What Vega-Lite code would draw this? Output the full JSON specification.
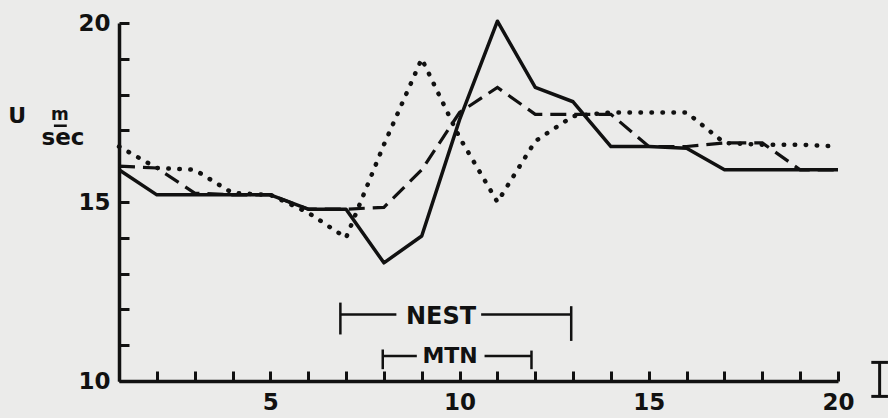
{
  "$schema": "https://vega.github.io/schema/vega-lite/v6.json",
  "width": 719,
  "height": 358,
  "autosize": "none",
  "padding": {"left": 119, "top": 23, "right": 50, "bottom": 37},
  "background": "#ebebea",
  "config": {
    "view": {"stroke": null},
    "axis": {
      "grid": false,
      "title": null,
      "domainColor": "#111",
      "domainWidth": 3.5,
      "tickColor": "#111",
      "tickWidth": 3,
      "tickSize": -10,
      "labelFont": "DejaVu Sans",
      "labelFontWeight": "bold",
      "labelFontSize": 23,
      "labelColor": "#111",
      "labelOverlap": false,
      "labelFlush": false,
      "labelBound": false,
      "labelExpr": "datum.value % 5 === 0 ? datum.label : ''"
    },
    "axisX": {"labelPadding": 20},
    "axisY": {"labelPadding": 19}
  },
  "datasets": {
    "series": [
      {"station": 1, "u": 16.55, "series": "dotted"},
      {"station": 2, "u": 15.95, "series": "dotted"},
      {"station": 3, "u": 15.9, "series": "dotted"},
      {"station": 4, "u": 15.25, "series": "dotted"},
      {"station": 5, "u": 15.2, "series": "dotted"},
      {"station": 6, "u": 14.7, "series": "dotted"},
      {"station": 7, "u": 14.0, "series": "dotted"},
      {"station": 8, "u": 16.6, "series": "dotted"},
      {"station": 9, "u": 19.0, "series": "dotted"},
      {"station": 10, "u": 16.8, "series": "dotted"},
      {"station": 11, "u": 15.0, "series": "dotted"},
      {"station": 12, "u": 16.7, "series": "dotted"},
      {"station": 13, "u": 17.4, "series": "dotted"},
      {"station": 14, "u": 17.5, "series": "dotted"},
      {"station": 15, "u": 17.5, "series": "dotted"},
      {"station": 16, "u": 17.5, "series": "dotted"},
      {"station": 17, "u": 16.65, "series": "dotted"},
      {"station": 18, "u": 16.6, "series": "dotted"},
      {"station": 19, "u": 16.6, "series": "dotted"},
      {"station": 20, "u": 16.55, "series": "dotted"},
      {"station": 1, "u": 16.0, "series": "dashed"},
      {"station": 2, "u": 15.95, "series": "dashed"},
      {"station": 3, "u": 15.25, "series": "dashed"},
      {"station": 4, "u": 15.2, "series": "dashed"},
      {"station": 5, "u": 15.2, "series": "dashed"},
      {"station": 6, "u": 14.8, "series": "dashed"},
      {"station": 7, "u": 14.8, "series": "dashed"},
      {"station": 8, "u": 14.85, "series": "dashed"},
      {"station": 9, "u": 15.9, "series": "dashed"},
      {"station": 10, "u": 17.5, "series": "dashed"},
      {"station": 11, "u": 18.2, "series": "dashed"},
      {"station": 12, "u": 17.45, "series": "dashed"},
      {"station": 13, "u": 17.45, "series": "dashed"},
      {"station": 14, "u": 17.45, "series": "dashed"},
      {"station": 15, "u": 16.55, "series": "dashed"},
      {"station": 16, "u": 16.55, "series": "dashed"},
      {"station": 17, "u": 16.65, "series": "dashed"},
      {"station": 18, "u": 16.65, "series": "dashed"},
      {"station": 19, "u": 15.9, "series": "dashed"},
      {"station": 20, "u": 15.9, "series": "dashed"},
      {"station": 1, "u": 15.9, "series": "solid"},
      {"station": 2, "u": 15.2, "series": "solid"},
      {"station": 3, "u": 15.2, "series": "solid"},
      {"station": 4, "u": 15.2, "series": "solid"},
      {"station": 5, "u": 15.2, "series": "solid"},
      {"station": 6, "u": 14.8, "series": "solid"},
      {"station": 7, "u": 14.8, "series": "solid"},
      {"station": 8, "u": 13.3, "series": "solid"},
      {"station": 9, "u": 14.05, "series": "solid"},
      {"station": 10, "u": 17.3, "series": "solid"},
      {"station": 11, "u": 20.05, "series": "solid"},
      {"station": 12, "u": 18.2, "series": "solid"},
      {"station": 13, "u": 17.8, "series": "solid"},
      {"station": 14, "u": 16.55, "series": "solid"},
      {"station": 15, "u": 16.55, "series": "solid"},
      {"station": 16, "u": 16.5, "series": "solid"},
      {"station": 17, "u": 15.9, "series": "solid"},
      {"station": 18, "u": 15.9, "series": "solid"},
      {"station": 19, "u": 15.9, "series": "solid"},
      {"station": 20, "u": 15.9, "series": "solid"}
    ],
    "bracketLines": [
      {"name": "NEST", "station": 6.85, "station_end": 8.33, "u": 11.86},
      {"name": "NEST", "station": 10.57, "station_end": 12.95, "u": 11.86},
      {"name": "MTN", "station": 7.97, "station_end": 8.87, "u": 10.7},
      {"name": "MTN", "station": 10.66, "station_end": 11.9, "u": 10.7}
    ],
    "bracketCaps": [
      {"name": "NEST", "station": 6.85, "u": 11.3, "u_end": 12.19},
      {"name": "NEST", "station": 12.95, "u": 11.12, "u_end": 12.09},
      {"name": "MTN", "station": 7.97, "u": 10.33, "u_end": 10.88},
      {"name": "MTN", "station": 11.9, "u": 10.33, "u_end": 10.85}
    ],
    "bracketLabels": [
      {"text": "NEST", "station": 9.51, "u": 11.58}
    ],
    "bracketLabels2": [
      {"text": "MTN", "station": 9.75, "u": 10.49}
    ],
    "scaleBarV": [
      {"station": 21.1, "u": 9.57, "u_end": 10.52}
    ],
    "scaleBarH": [
      {"station": 20.88, "station_end": 21.32, "u": 9.57},
      {"station": 20.88, "station_end": 21.32, "u": 10.52}
    ],
    "titleU": [{"text": "U", "station": -1.69, "u": 17.22}],
    "titleM": [{"text": "m", "station": -0.56, "u": 17.28}],
    "titleBar": [{"station": -0.72, "station_end": -0.38, "u": 17.13}],
    "titleSec": [{"text": "sec", "station": -0.48, "u": 16.6}]
  },
  "encoding": {
    "x": {"field": "station", "type": "quantitative", "scale": {"domain": [1, 20], "nice": false, "zero": false},
          "axis": {"values": [1,2,3,4,5,6,7,8,9,10,11,12,13,14,15,16,17,18,19,20]}},
    "y": {"field": "u", "type": "quantitative", "scale": {"domain": [10, 20], "nice": false, "zero": false},
          "axis": {"values": [10,11,12,13,14,15,16,17,18,19,20]}}
  },
  "layer": [
    {
      "data": {"name": "series"},
      "transform": [{"filter": "datum.series === 'dotted'"}],
      "mark": {"type": "line", "color": "#111", "strokeWidth": 4.5, "strokeDash": [0.5, 10.5], "strokeCap": "round"}
    },
    {
      "data": {"name": "series"},
      "transform": [{"filter": "datum.series === 'dashed'"}],
      "mark": {"type": "line", "color": "#111", "strokeWidth": 3.2, "strokeDash": [16, 8]}
    },
    {
      "data": {"name": "series"},
      "transform": [{"filter": "datum.series === 'solid'"}],
      "mark": {"type": "line", "color": "#111", "strokeWidth": 3.5, "strokeJoin": "round"}
    },
    {
      "data": {"name": "bracketLines"},
      "mark": {"type": "rule", "color": "#111", "strokeWidth": 2.5},
      "encoding": {"x2": {"field": "station_end"}}
    },
    {
      "data": {"name": "bracketCaps"},
      "mark": {"type": "rule", "color": "#111", "strokeWidth": 2.5},
      "encoding": {"y2": {"field": "u_end"}}
    },
    {
      "data": {"name": "bracketLabels"},
      "mark": {"type": "text", "font": "DejaVu Sans", "fontWeight": "bold", "fontSize": 24, "color": "#111", "align": "center", "baseline": "alphabetic"},
      "encoding": {"text": {"field": "text"}}
    },
    {
      "data": {"name": "bracketLabels2"},
      "mark": {"type": "text", "font": "DejaVu Sans", "fontWeight": "bold", "fontSize": 22, "color": "#111", "align": "center", "baseline": "alphabetic"},
      "encoding": {"text": {"field": "text"}}
    },
    {
      "data": {"name": "scaleBarV"},
      "mark": {"type": "rule", "color": "#111", "strokeWidth": 3},
      "encoding": {"y2": {"field": "u_end"}}
    },
    {
      "data": {"name": "scaleBarH"},
      "mark": {"type": "rule", "color": "#111", "strokeWidth": 3},
      "encoding": {"x2": {"field": "station_end"}}
    },
    {
      "data": {"name": "titleU"},
      "mark": {"type": "text", "font": "DejaVu Sans", "fontWeight": "bold", "fontSize": 22, "color": "#111", "align": "center", "baseline": "alphabetic"},
      "encoding": {"text": {"field": "text"}}
    },
    {
      "data": {"name": "titleM"},
      "mark": {"type": "text", "font": "DejaVu Sans", "fontWeight": "bold", "fontSize": 17, "color": "#111", "align": "center", "baseline": "alphabetic"},
      "encoding": {"text": {"field": "text"}}
    },
    {
      "data": {"name": "titleBar"},
      "mark": {"type": "rule", "color": "#111", "strokeWidth": 2.5},
      "encoding": {"x2": {"field": "station_end"}}
    },
    {
      "data": {"name": "titleSec"},
      "mark": {"type": "text", "font": "DejaVu Sans", "fontWeight": "bold", "fontSize": 23, "color": "#111", "align": "center", "baseline": "alphabetic"},
      "encoding": {"text": {"field": "text"}}
    }
  ]
}
